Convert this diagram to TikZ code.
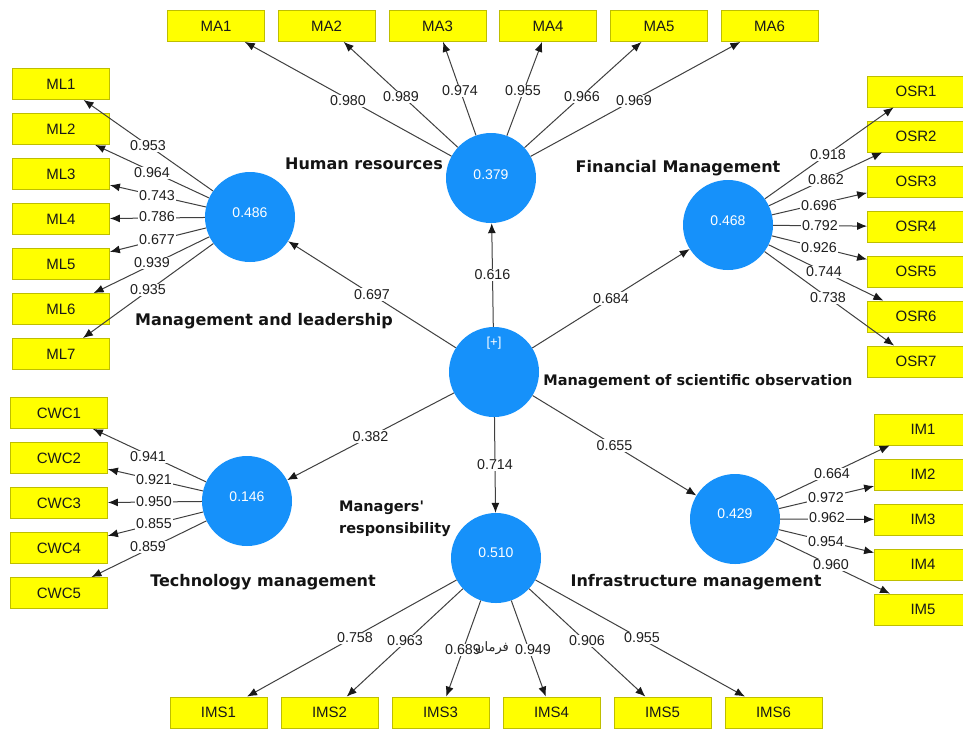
\documentclass[tikz,border=0pt]{standalone}
\usepackage{fontspec}
\setmainfont{Liberation Sans}
\newfontfamily\djv{DejaVu Sans}
\newfontfamily\arabicfont[Script=Arabic]{DejaVu Sans}
\TeXXeTstate=1
\usetikzlibrary{arrows.meta}
\definecolor{latblue}{RGB}{22,145,250}
\definecolor{boxyellow}{RGB}{255,255,0}
\definecolor{boxborder}{RGB}{190,190,0}
\begin{document}
\begin{tikzpicture}[x=1pt,y=-1pt,
  ind/.style={draw=boxborder, line width=0.8pt, fill=boxyellow, minimum width=97pt, minimum height=31pt, inner sep=0pt, font=\fontsize{15}{18}\selectfont, text=black!90},
  lat/.style={circle, fill=latblue, minimum size=90pt, inner sep=0pt},
  lv/.style={font=\fontsize{14}{16}\selectfont, text=white, inner sep=0pt},
  ld/.style={fill=white, inner sep=1.3pt, font=\fontsize{14.3}{16}\selectfont, text=black!88},
  cname/.style={font=\djv\bfseries\fontsize{16}{19}\selectfont, text=black!92, inner sep=0pt},
  conn/.style={draw=black!75, line width=1pt, -{Latex[length=10pt,width=8pt,color=black!90]}}]
\fill[white] (0,0) rectangle (963,729);
\useasboundingbox (0,0) rectangle (963,729);

% latent variables
\node[lat] (ML) at (250,217) {};
\node[lat] (HR) at (491,178) {};
\node[lat] (FM) at (728,225) {};
\node[lat] (C)  at (494,372) {};
\node[lat] (TM) at (247,501) {};
\node[lat] (MR) at (496,558) {};
\node[lat] (IM) at (735,519) {};
\node[lv] (tML) at (250,213) {0.486};
\node[lv] (tHR) at (491,175) {0.379};
\node[lv] (tFM) at (728,221) {0.468};
\node[lv, font=\fontsize{13}{15}\selectfont] (tC) at (494,343) {[+]};
\node[lv] (tTM) at (247,497) {0.146};
\node[lv] (tMR) at (496,553) {0.510};
\node[lv] (tIM) at (735,514) {0.429};

% indicators
\foreach \i/\y in {1/84,2/129,3/174,4/219,5/264,6/309,7/354}
  \node[ind] (ml\i) at (61,\y) {ML\i};
\foreach \i/\x in {1/216,2/326.5,3/437.5,4/548,5/659,6/769.5}
  \node[ind] (ma\i) at (\x,26) {MA\i};
\foreach \i/\y in {1/91.5,2/136.5,3/181.5,4/226.5,5/271.5,6/316.5,7/361.5}
  \node[ind] (osr\i) at (916,\y) {OSR\i};
\foreach \i/\y in {1/413,2/458,3/503,4/548,5/593}
  \node[ind] (cwc\i) at (59,\y) {CWC\i};
\foreach \i/\y in {1/429.5,2/474.5,3/519.5,4/564.5,5/609.5}
  \node[ind] (im\i) at (923,\y) {IM\i};
\foreach \i/\x in {1/218.5,2/329.5,3/440.5,4/551.5,5/662.5,6/773.5}
  \node[ind] (ims\i) at (\x,712.5) {IMS\i};

% outer loadings: lines
\foreach \i in {1,...,7} \draw[conn] (ML) -- (ml\i);
\foreach \i in {1,...,6} \draw[conn] (HR) -- (ma\i);
\foreach \i in {1,...,7} \draw[conn] (FM) -- (osr\i);
\foreach \i in {1,...,5} \draw[conn] (TM) -- (cwc\i);
\foreach \i in {1,...,5} \draw[conn] (IM) -- (im\i);
\foreach \i in {1,...,6} \draw[conn] (MR) -- (ims\i);

% structural paths
\draw[conn] (C) -- node[ld] (s1) {0.616} (HR);
\draw[conn] (C) -- node[ld] (s2) {0.697} (ML);
\draw[conn] (C) -- node[ld] (s3) {0.684} (FM);
\draw[conn] (C) -- node[ld] (s4) {0.382} (TM);
\draw[conn] (C) -- node[ld] (s5) {0.714} (MR);
\draw[conn] (C) -- node[ld] (s6) {0.655} (IM);

% outer loadings: labels
\foreach \i/\v/\x/\y in {1/0.953/148/146,2/0.964/152/173,3/0.743/157/196,4/0.786/157/217,5/0.677/157/240,6/0.939/152/263,7/0.935/148/290}
  \node[ld] (lml\i) at (\x,\y) {\v};
\foreach \i/\v/\x/\y in {1/0.980/348/101,2/0.989/401/97,3/0.974/460/91,4/0.955/523/91,5/0.966/582/97,6/0.969/634/101}
  \node[ld] (lma\i) at (\x,\y) {\v};
\foreach \i/\v/\x/\y in {1/0.918/828/155,2/0.862/826/180,3/0.696/819/206,4/0.792/820/226,5/0.926/819/248,6/0.744/824/272,7/0.738/828/298}
  \node[ld] (losr\i) at (\x,\y) {\v};
\foreach \i/\v/\x/\y in {1/0.941/148/457,2/0.921/154/480,3/0.950/154/502,4/0.855/154/524,5/0.859/148/547}
  \node[ld] (lcwc\i) at (\x,\y) {\v};
\foreach \i/\v/\x/\y in {1/0.664/832/474,2/0.972/826/498,3/0.962/827/518,4/0.954/826/542,5/0.960/831/565}
  \node[ld] (lim\i) at (\x,\y) {\v};
\foreach \i/\v/\x/\y in {1/0.758/355/638,2/0.963/405/641,3/0.689/463/650,4/0.949/533/650,5/0.906/587/641,6/0.955/642/638}
  \node[ld] (lims\i) at (\x,\y) {\v};

\node[font=\arabicfont\fontsize{13}{15}\selectfont, text=black!85, inner sep=0pt] (ar) at (492,648) {\beginR فرمان\endR};

% construct names
\node[cname] (nHR) at (364,164) {Human resources};
\node[cname] (nFM) at (678,168) {Financial Management};
\node[cname] (nML) at (264,321) {Management and leadership};
\node[cname, font=\djv\bfseries\fontsize{14.5}{17}\selectfont] (nC) at (698,382) {Management of scientific observation};
\node[cname, font=\djv\bfseries\fontsize{14.5}{21.5}\selectfont, align=left, anchor=west] (nMR) at (339,519) {Managers'\\responsibility};
\node[cname] (nTM) at (263,582) {Technology management};
\node[cname] (nIM) at (696,582) {Infrastructure management};
\end{tikzpicture}
\end{document}
